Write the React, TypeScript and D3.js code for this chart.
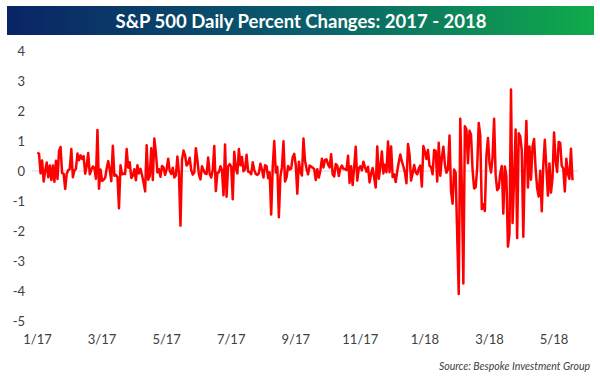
import React from "react";
import * as d3 from "d3";

// S&P 500 daily % changes, trading days Jan 3 2017 -> May 22 2018
const values2017: number[] = [
  // Jan
  0.62, 0.57, -0.08, 0.35, -0.35, 0.0, 0.28, -0.21, 0.18, -0.3, 0.18, -0.36, 0.34, -0.27, 0.66, 0.8, -0.07, -0.09, -0.6, -0.09,
  // Feb
  0.03, 0.06, 0.73, -0.21, 0.02, 0.07, 0.58, 0.36, 0.52, 0.4, 0.5, -0.09, 0.17, 0.6, -0.11, 0.04, 0.15, 0.1, -0.26,
  // Mar
  1.37, -0.59, 0.05, -0.33, -0.29, -0.23, 0.08, 0.33, 0.04, -0.34, 0.84, -0.16, -0.13, -0.2, -1.24, 0.19, -0.11, -0.08, -0.1, 0.73, 0.11, 0.29, -0.23,
  // Apr
  -0.16, 0.06, -0.31, 0.19, -0.08, 0.07, -0.14, -0.38, -0.68, 0.86, -0.29, -0.17, 0.76, -0.3, 1.08, 0.61, -0.05, 0.06, -0.19,
  // May
  0.17, 0.12, -0.13, 0.06, 0.41, 0.0, -0.1, 0.11, -0.22, -0.15, 0.48, -0.07, -1.82, 0.37, 0.68, 0.52, 0.18, 0.25, 0.44, 0.03, -0.12, -0.05,
  // Jun
  0.76, 0.37, -0.12, -0.28, 0.16, 0.03, -0.08, -0.1, 0.45, -0.1, -0.22, 0.03, 0.83, -0.67, -0.06, -0.05, 0.16, 0.03, -0.81, 0.88, -0.86, 0.15,
  // Jul
  0.23, 0.15, -0.94, 0.64, 0.09, -0.08, 0.73, 0.19, 0.47, -0.01, 0.06, 0.54, -0.02, -0.04, -0.11, 0.29, 0.03, -0.1, -0.13, -0.07,
  // Aug
  0.24, 0.05, -0.22, 0.19, 0.16, -0.24, -0.04, -1.45, 0.13, 1.0, -0.05, 0.14, -1.54, -0.18, 0.12, 0.99, -0.35, -0.21, 0.17, 0.05, 0.08, 0.46, 0.57,
  // Sep
  0.2, -0.76, 0.31, -0.02, -0.15, 1.08, 0.34, 0.08, -0.11, 0.18, 0.15, 0.11, 0.06, -0.3, 0.06, -0.22, 0.01, 0.41, 0.12, 0.37,
  // Oct
  0.39, 0.22, 0.12, 0.56, -0.11, -0.18, 0.23, 0.18, -0.17, 0.09, 0.18, 0.07, 0.07, 0.03, 0.51, -0.4, 0.16, -0.47, 0.13, 0.81, -0.32, 0.09,
  // Nov
  0.16, 0.02, 0.31, 0.13, -0.02, 0.14, -0.38, -0.09, 0.1, -0.23, -0.55, 0.82, -0.26, 0.13, 0.65, -0.08, 0.21, -0.04, 0.98, -0.04, 0.82,
  // Dec
  -0.2, -0.11, -0.37, -0.01, 0.29, 0.55, 0.32, 0.15, -0.05, -0.41, 0.9, 0.54, -0.32, -0.08, 0.2, -0.05, -0.11, 0.08, 0.18, -0.52,
];

const values2018: number[] = [
  // Jan
  0.83, 0.64, 0.4, 0.7, 0.17, 0.13, -0.11, 0.7, 0.67, -0.35, 0.94, -0.16, 0.44, 0.81, 0.22, -0.06, 0.06, 1.18, -0.67, -1.09, 0.05,
  // Feb
  -0.06, -2.12, -4.1, 1.74, -0.5, -3.75, 1.49, 1.39, 0.26, 1.34, 1.21, 0.04, -0.58, -0.55, 0.1, 1.6, 1.18, -1.27, -1.11,
  // Mar
  -1.33, 0.51, 1.1, 0.26, -0.05, 0.45, 1.74, -0.13, -0.64, -0.57, -0.08, 0.17, -1.42, 0.15, -0.18, -2.52, -2.1, 2.72, -1.73, -0.29, 1.38,
  // Apr
  -2.23, 1.26, 1.16, 0.69, -2.19, 0.33, 1.67, -0.55, 0.82, -0.29, 0.81, 1.07, 0.08, -0.57, -0.85, 0.01, -1.34, 0.18, 1.04, 0.11, -0.82,
  // May
  0.25, -0.72, -0.23, 1.28, 0.35, -0.03, 0.97, 0.94, 0.17, 0.09, -0.68, 0.41, -0.09, -0.26, 0.74, -0.31,
];

const xTickLabels: string[] = ["1/17", "3/17", "5/17", "7/17", "9/17", "11/17", "1/18", "3/18", "5/18"];
const yTicks: number[] = [4, 3, 2, 1, 0, -1, -2, -3, -4, -5];
const titleText = "S&P 500 Daily Percent Changes: 2017 - 2018";
const sourceText = "Source: Bespoke Investment Group";

const W = 600;
const H = 381;
const labelInterval = 42;

export default function App() {
  const values = [...values2017, ...values2018];
  const n = values.length;
  const x = d3.scaleLinear().domain([0, n - 1]).range([37.5, 572.5]);
  const y = d3.scaleLinear().domain([-5, 4]).range([321, 51]);
  const line = d3
    .line<number>()
    .x((_, i) => x(i))
    .y((d) => y(d));
  const font = "Lato, 'Open Sans', sans-serif";

  return (
    <svg
      width={W}
      height={H}
      style={{ position: "absolute", left: 0, top: 0, background: "#fff" }}
    >
      <defs>
        <linearGradient id="bannerGrad" x1="0" x2="1" y1="0" y2="0">
          <stop offset="0%" stopColor="#0a2466" />
          <stop offset="50%" stopColor="#0a5c6c" />
          <stop offset="100%" stopColor="#0fab4a" />
        </linearGradient>
      </defs>
      <rect x={7} y={6} width={587} height={29} fill="url(#bannerGrad)" />
      <text
        x={301}
        y={21}
        fill="#fff"
        fontFamily={font}
        fontWeight={700}
        fontSize={18.5}
        textAnchor="middle"
        dominantBaseline="central"
      >
        {titleText}
      </text>

      {yTicks.map((t) => (
        <text
          key={t}
          x={25}
          y={y(t)}
          fontFamily={font}
          fontSize={13}
          fill="#404040"
          textAnchor="end"
          dominantBaseline="central"
        >
          {t}
        </text>
      ))}

      <line x1={32} x2={578} y1={y(0)} y2={y(0)} stroke="#d9d9d9" strokeWidth={1} />

      {xTickLabels.map((l, i) => (
        <text
          key={l}
          x={x(i * labelInterval)}
          y={339}
          fontFamily={font}
          fontSize={13}
          fill="#404040"
          textAnchor="middle"
          dominantBaseline="central"
        >
          {l}
        </text>
      ))}

      <path
        d={line(values) || ""}
        fill="none"
        stroke="#ff0000"
        strokeWidth={2.5}
        strokeLinejoin="round"
      />

      <text
        x={590}
        y={366}
        fontFamily={font}
        fontSize={10.5}
        fontStyle="italic"
        fill="#404040"
        textAnchor="end"
        dominantBaseline="central"
      >
        {sourceText}
      </text>
    </svg>
  );
}
